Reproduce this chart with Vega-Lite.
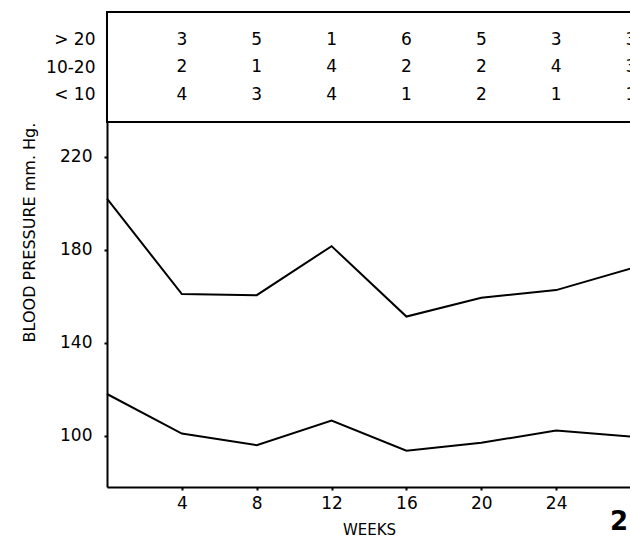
{
  "$schema": "https://vega.github.io/schema/vega-lite/v6.json",
  "background": "white",
  "padding": {"left": 21, "top": 11, "right": 0, "bottom": 0},
  "spacing": 0,
  "bounds": "flush",
  "config": {
    "font": "DejaVu Sans",
    "view": {"stroke": null},
    "axis": {
      "grid": false,
      "labelFont": "DejaVu Sans",
      "titleFont": "DejaVu Sans",
      "labelColor": "black",
      "titleColor": "black",
      "domainColor": "black",
      "tickColor": "black",
      "labelFontSize": 17,
      "titleFontWeight": "normal"
    }
  },
  "datasets": {
    "counts": [
      {"week": 4, "ulcer": "> 20", "n": 3},
      {"week": 4, "ulcer": "10-20", "n": 2},
      {"week": 4, "ulcer": "< 10", "n": 4},
      {"week": 8, "ulcer": "> 20", "n": 5},
      {"week": 8, "ulcer": "10-20", "n": 1},
      {"week": 8, "ulcer": "< 10", "n": 3},
      {"week": 12, "ulcer": "> 20", "n": 1},
      {"week": 12, "ulcer": "10-20", "n": 4},
      {"week": 12, "ulcer": "< 10", "n": 4},
      {"week": 16, "ulcer": "> 20", "n": 6},
      {"week": 16, "ulcer": "10-20", "n": 2},
      {"week": 16, "ulcer": "< 10", "n": 1},
      {"week": 20, "ulcer": "> 20", "n": 5},
      {"week": 20, "ulcer": "10-20", "n": 2},
      {"week": 20, "ulcer": "< 10", "n": 2},
      {"week": 24, "ulcer": "> 20", "n": 3},
      {"week": 24, "ulcer": "10-20", "n": 4},
      {"week": 24, "ulcer": "< 10", "n": 1},
      {"week": 28, "ulcer": "> 20", "n": 3},
      {"week": 28, "ulcer": "10-20", "n": 3},
      {"week": 28, "ulcer": "< 10", "n": 1}
    ],
    "bp": [
      {"week": 0, "measure": "systolic", "mmHg": 202},
      {"week": 4, "measure": "systolic", "mmHg": 161},
      {"week": 8, "measure": "systolic", "mmHg": 160.5},
      {"week": 12, "measure": "systolic", "mmHg": 181.6},
      {"week": 16, "measure": "systolic", "mmHg": 151.3},
      {"week": 20, "measure": "systolic", "mmHg": 159.4},
      {"week": 24, "measure": "systolic", "mmHg": 162.7},
      {"week": 28, "measure": "systolic", "mmHg": 172},
      {"week": 0, "measure": "diastolic", "mmHg": 118},
      {"week": 4, "measure": "diastolic", "mmHg": 101},
      {"week": 8, "measure": "diastolic", "mmHg": 96},
      {"week": 12, "measure": "diastolic", "mmHg": 106.6},
      {"week": 16, "measure": "diastolic", "mmHg": 93.6},
      {"week": 20, "measure": "diastolic", "mmHg": 97},
      {"week": 24, "measure": "diastolic", "mmHg": 102.3},
      {"week": 28, "measure": "diastolic", "mmHg": 99.7}
    ]
  },
  "vconcat": [
    {
      "width": 524,
      "height": 110,
      "view": {"stroke": "black", "strokeWidth": 2},
      "data": {"name": "counts"},
      "mark": {"type": "text", "fontSize": 17, "font": "DejaVu Sans", "color": "black"},
      "encoding": {
        "x": {
          "field": "week",
          "type": "quantitative",
          "scale": {"domain": [0, 28], "nice": false},
          "axis": null
        },
        "y": {
          "field": "ulcer",
          "type": "nominal",
          "sort": ["> 20", "10-20", "< 10"],
          "scale": {"type": "point", "padding": 1.1},
          "axis": {"title": null, "domain": false, "ticks": false, "labelPadding": 12}
        },
        "text": {"field": "n", "type": "quantitative"}
      }
    },
    {
      "width": 524,
      "height": 365,
      "data": {"name": "bp"},
      "title": {
        "text": "2",
        "orient": "bottom",
        "anchor": "end",
        "font": "DejaVu Sans",
        "fontSize": 26,
        "fontWeight": "bold",
        "offset": -28,
        "dx": -7
      },
      "mark": {"type": "line", "color": "black", "strokeWidth": 2},
      "encoding": {
        "x": {
          "field": "week",
          "type": "quantitative",
          "scale": {"domain": [0, 28], "nice": false},
          "axis": {
            "title": "WEEKS",
            "values": [4, 8, 12, 16, 20, 24],
            "domainWidth": 2,
            "tickSize": 3,
            "tickWidth": 2,
            "labelPadding": 5,
            "titleFontSize": 15,
            "titlePadding": 11
          }
        },
        "y": {
          "field": "mmHg",
          "type": "quantitative",
          "scale": {"domain": [78, 235], "nice": false, "zero": false},
          "axis": {
            "title": "BLOOD PRESSURE   mm. Hg.",
            "values": [100, 140, 180, 220],
            "domainWidth": 2,
            "tickSize": 3,
            "tickWidth": 2,
            "labelPadding": 12,
            "titleFontSize": 16,
            "titlePadding": 22,
            "titleY": 110,
            "titleAlign": "center"
          }
        },
        "detail": {"field": "measure", "type": "nominal"}
      }
    }
  ]
}
